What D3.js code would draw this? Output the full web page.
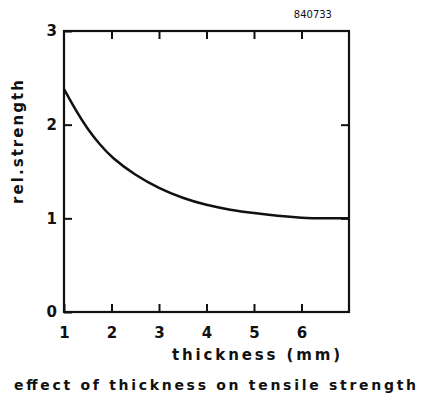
<!DOCTYPE html>
<meta charset="utf-8">
<script src="https://d3js.org/d3.v7.min.js"></script>
<style>
  body { margin: 0; background: #fff; }
  text { font-family: "DejaVu Sans", sans-serif; font-weight: bold; fill: #111; }
</style>
<svg id="chart" width="431" height="398"></svg>
<script>
// curve
var thickness = [1, 1.25, 1.5, 1.75, 2, 2.5, 3, 3.5, 4, 4.5, 5, 5.5, 6, 6.5, 7];
var strength  = [2.38, 2.15, 1.95, 1.79, 1.65, 1.46, 1.32, 1.215, 1.14, 1.09, 1.055, 1.025, 1.005, 1.0, 1.0];
var xTicks = [1, 2, 3, 4, 5, 6];
var yTicks = [0, 1, 2, 3];

var margin = {top: 31, right: 82, bottom: 86, left: 64};
var width = 431 - margin.left - margin.right,
    height = 398 - margin.top - margin.bottom;

var svg = d3.select("#chart");
var g = svg.append("g").attr("transform", "translate(" + margin.left + "," + margin.top + ")");

var x = d3.scaleLinear().domain([1, 7]).range([0, width]);
var y = d3.scaleLinear().domain([0, 3]).range([height, 0]);

// inward ticks on all four sides
g.append("g").attr("transform", "translate(0," + height + ")")
  .call(d3.axisBottom(x).tickValues(xTicks).tickSizeInner(-8).tickSizeOuter(0).tickPadding(15).tickFormat(d3.format("d")));
g.append("g")
  .call(d3.axisTop(x).tickValues(xTicks.slice(1)).tickSizeInner(-8).tickSizeOuter(0).tickFormat(""));
g.append("g")
  .call(d3.axisLeft(y).tickValues(yTicks).tickSizeInner(-8).tickSizeOuter(0).tickPadding(7).tickFormat(d3.format("d")));
g.append("g").attr("transform", "translate(" + width + ",0)")
  .call(d3.axisRight(y).tickValues([1, 2]).tickSizeInner(-8).tickSizeOuter(0).tickFormat(""));

g.selectAll(".tick line").attr("stroke", "#111").attr("stroke-width", 2);
g.selectAll(".domain").remove();
g.selectAll(".tick text").style("font-size", "15px").style("font-family", "DejaVu Sans").style("font-weight", "bold").attr("fill", "#111");

// frame
g.append("rect").attr("width", width).attr("height", height)
  .attr("fill", "none").attr("stroke", "#111").attr("stroke-width", 2.2);

// curve
var line = d3.line().curve(d3.curveBasis)
  .x(function(d, i) { return x(thickness[i]); })
  .y(function(d) { return y(d); });
g.append("path").datum(strength)
  .attr("d", line).attr("fill", "none").attr("stroke", "#111").attr("stroke-width", 2.5);

// labels
svg.append("text").attr("x", 332).attr("y", 18).attr("text-anchor", "end")
  .style("font-size", "10px").style("font-weight", "normal").text("840733");

svg.append("text").attr("transform", "translate(23,80) rotate(-90)").attr("text-anchor", "end")
  .attr("textLength", 124).attr("lengthAdjust", "spacing")
  .style("font-size", "15px").text("rel.strength");

svg.append("text").attr("x", 172).attr("y", 360)
  .attr("textLength", 168).attr("lengthAdjust", "spacing")
  .style("font-size", "15px").text("thickness (mm)");

svg.append("text").attr("x", 14).attr("y", 390)
  .attr("textLength", 402).attr("lengthAdjust", "spacing")
  .style("font-size", "14px").text("effect of thickness on tensile strength");
</script>
